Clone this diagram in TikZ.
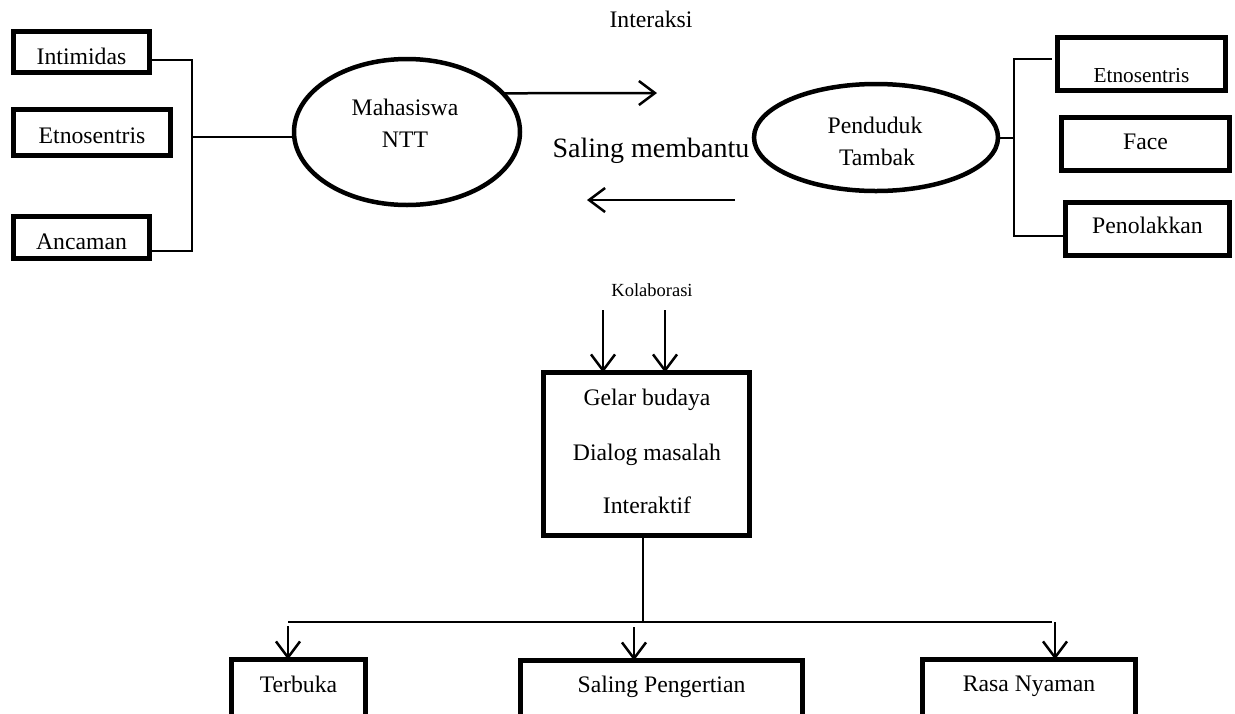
\documentclass[tikz,border=0pt]{standalone}
\usepackage{fontspec}
\setmainfont{Liberation Serif}
\usetikzlibrary{shapes.geometric,arrows.meta}
\begin{document}
\begin{tikzpicture}[x=1pt,y=-1pt,
  box/.style={draw,line width=5pt,inner sep=0pt,outer sep=0pt,
    font=\fontsize{23.7}{28}\selectfont,text depth=0pt},
  oval/.style={draw,ellipse,line width=4.5pt,inner sep=0pt,outer sep=0pt},
  lbl/.style={anchor=base,inner sep=0pt,font=\fontsize{23.7}{28}\selectfont},
  conn/.style={line width=2pt},
  arr/.style={line width=2.5pt,-{Straight Barb[length=16pt,width=24pt]}}]
\useasboundingbox[fill=white] (0,0) rectangle (1235,713);

% left boxes
\node[box,minimum width=136pt,minimum height=41pt,text height=24.6pt] (intim) at (81.5,52) {Intimidas};
\node[box,minimum width=157pt,minimum height=46pt,text height=21.6pt] (etnoL) at (92,132.5) {Etnosentris};
\node[box,minimum width=136pt,minimum height=42pt,text height=23.6pt] (anc) at (81.5,237.5) {Ancaman};

% right boxes
\node[box,minimum width=168pt,minimum height=53pt,text height=36.6pt,font=\fontsize{21.3}{25}\selectfont] (etnoR) at (1141.5,64) {Etnosentris};
\node[box,minimum width=168pt,minimum height=53pt,text height=10.6pt] (face) at (1145.5,144) {Face};
\node[box,minimum width=164pt,minimum height=53pt,text height=8.6pt] (penol) at (1147.5,229) {Penolakkan};

% ellipses
\node[oval,minimum width=226pt,minimum height=146pt] (mah) at (407,132) {};
\node[lbl] (mahT1) at (405,115) {Mahasiswa};
\node[lbl] (mahT2) at (405,147) {NTT};
\node[oval,minimum width=244pt,minimum height=107pt] (pend) at (876,137.5) {};
\node[lbl] (pendT1) at (875,133) {Penduduk};
\node[lbl] (pendT2) at (877,165) {Tambak};

% middle labels
\node[lbl] (inter) at (651,27.3) {Interaksi};
\node[lbl,font=\fontsize{28}{32}\selectfont] (saling) at (651,157) {Saling membantu};
\node[lbl,font=\fontsize{18.5}{22}\selectfont] (kolab) at (652,296) {Kolaborasi};

% centre box
\node[box,minimum width=206pt,minimum height=163pt] (cbox) at (646.5,454) {};
\node[lbl] (c1) at (647,405) {Gelar budaya};
\node[lbl] (c2) at (647,460) {Dialog masalah};
\node[lbl] (c3) at (647,513) {Interaktif};

% bottom boxes
\node[box,minimum width=134pt,minimum height=80pt,text height=0pt,text depth=13.6pt] (terb) at (298.5,699.5) {Terbuka};
\node[box,minimum width=282pt,minimum height=80pt,text height=0pt,text depth=15.6pt] (sp) at (661.5,700.5) {Saling Pengertian};
\node[box,minimum width=213pt,minimum height=80pt,text height=0pt,text depth=15.6pt] (rn) at (1029,699.5) {Rasa Nyaman};

% left bracket
\coordinate (Lt) at (192,60);
\coordinate (Lm) at (192,137);
\coordinate (Lb) at (192,251);
\draw[conn] (intim.east |- Lt) -- (Lt) -- (Lb) -- (anc.east |- Lb);
\draw[conn] (Lm) -- (mah.west |- Lm);

% right bracket
\coordinate (Rt) at (1014,59);
\coordinate (Rte) at (1052,59);
\coordinate (Rm) at (1014,137.5);
\coordinate (Rb) at (1014,236);
\draw[conn] (Rte) -- (Rt) -- (Rb) -- (penol.west |- Rb);
\draw[conn] (pend.east) -- (Rm);

% interaction arrows
\coordinate (a1e) at (657,93);
\draw[arr] (mah.22.2) -- (a1e);
\coordinate (a2s) at (735,200);
\coordinate (a2e) at (587,200);
\draw[arr] (a2s) -- (a2e);

% kolaborasi arrows
\coordinate (k1) at (603,310);
\coordinate (k2) at (665,310);
\draw[arr] (k1) -- (k1 |- cbox.north);
\draw[arr] (k2) -- (k2 |- cbox.north);

% bottom tree
\coordinate (bj) at (643,622);
\coordinate (bl) at (288,622);
\coordinate (br) at (1052,622);
\draw[conn] (bj |- cbox.south) -- (bj);
\draw[conn] (bl) -- (br);
\coordinate (t1) at (288,626);
\coordinate (t2) at (634,627);
\coordinate (t3) at (1055,622);
\draw[arr] (t1) -- (t1 |- terb.north);
\draw[arr] (t2) -- (t2 |- sp.north);
\draw[arr] (t3) -- (t3 |- rn.north);
\end{tikzpicture}
\end{document}
